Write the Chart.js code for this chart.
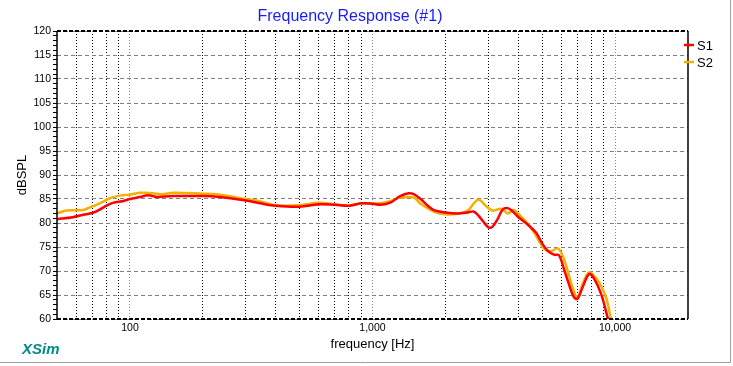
<!DOCTYPE html>
<html lang="en">
<head>
  <meta charset="UTF-8" />
  <title>Frequency Response (#1)</title>
  <script src="https://cdn.jsdelivr.net/npm/chart.js"></script>
  <style>
    body { margin: 0; background: #fff; }
    canvas { display: block; }
  </style>
</head>
<body>
  <canvas id="fr" width="733" height="366"></canvas>

  <script>
    // values
    const s1Freq = [50, 58, 64, 70, 75, 80, 85, 94, 100, 110, 119, 129, 137, 151, 200, 235, 300, 345, 400, 500,
      600, 700, 800, 900, 1000, 1080, 1190, 1300, 1410, 1480, 1580, 1680, 1790, 2000, 2240, 2470, 2610, 2740,
      3000, 3120, 3280, 3440, 3610, 3790, 4000, 4360, 4720, 5000, 5280, 5600, 5870, 6160, 6450, 6760, 7000,
      7350, 7820, 8200, 8770, 9300, 9700];
    const s1Spl = [80.8, 81.2, 81.7, 82.1, 82.8, 83.6, 84.2, 84.6, 85.0, 85.4, 85.8, 85.4, 85.5, 85.6, 85.6, 85.4, 84.7, 84.1, 83.6, 83.4,
      83.9, 83.8, 83.6, 84.1, 84.0, 83.8, 84.3, 85.6, 86.2, 86.0, 85.0, 83.7, 82.7, 82.2, 82.0, 82.2, 82.4, 81.5,
      79.1, 79.2, 80.8, 82.8, 83.1, 82.4, 81.2, 79.7, 78.0, 75.8, 74.2, 73.4, 73.3, 70.4, 67.3, 64.6, 64.2,
      66.6, 69.4, 68.4, 65.2, 60.5, 57.0];

    const s2Freq = [50, 55, 64, 68, 75, 83, 91, 100, 110, 124, 135, 151, 200, 235, 300, 345, 400, 500,
      600, 700, 800, 900, 1000, 1080, 1190, 1300, 1480, 1580, 1790, 2000, 2240, 2470, 2610, 2741, 2930,
      3121, 3327, 3437, 3608, 3823, 4000, 4360, 4720, 5106, 5433, 5800, 6084, 6375, 6683, 7000,
      7349, 7796, 8201, 8613, 9185, 9630, 10000];
    const s2Spl = [82.0, 82.6, 82.7, 83.2, 84.1, 85.2, 85.7, 85.9, 86.3, 86.2, 86.0, 86.3, 86.1, 85.9, 85.0, 84.5, 83.7, 83.7,
      84.2, 83.9, 83.6, 84.1, 84.1, 84.1, 84.6, 85.3, 85.3, 84.0, 82.4, 81.8, 81.9, 82.6, 84.0, 84.9, 83.6,
      82.6, 82.9, 82.9, 82.0, 82.7, 81.9, 79.9, 77.4, 74.6, 74.1, 74.7, 73.2, 70.1, 66.6, 64.5,
      67.3, 69.7, 69.0, 67.6, 64.5, 60.0, 57.0];

    const seriesNames = ['S1', 'S2'];
    const seriesColors = ['#ff0000', '#f2b000'];

    // grid frequencies and the few that get a label
    const xGridFreqs = [60, 70, 80, 90, 100, 200, 300, 400, 500, 600, 700, 800, 900,
      1000, 2000, 3000, 4000, 5000, 6000, 7000, 8000, 9000, 10000];
    const xLabelFreqs = [100, 1000, 10000];
    const xLabelText = ['100', '1,000', '10,000'];

    const font = 'Liberation Sans, Arial, sans-serif';

    const toPoints = (fs, vs) => fs.map((f, i) => ({ x: f, y: vs[i] }));

    const decor = {
      id: 'decor',
      beforeDraw(chart) {
        const ctx = chart.ctx;
        ctx.save();
        ctx.fillStyle = '#fff';
        ctx.fillRect(0, 0, chart.width, chart.height);
        ctx.restore();
      },
      afterDraw(chart) {
        const ctx = chart.ctx;
        const a = chart.chartArea;
        ctx.save();

        // frame round the plot
        ctx.strokeStyle = '#000';
        ctx.lineWidth = 1.5;
        ctx.beginPath();
        ctx.moveTo(a.left, a.top); ctx.lineTo(a.left, a.bottom);
        ctx.moveTo(a.right, a.top); ctx.lineTo(a.right, a.bottom);
        ctx.stroke();
        ctx.lineWidth = 2;
        ctx.setLineDash([4, 2]);
        ctx.beginPath();
        ctx.moveTo(a.left, a.top); ctx.lineTo(a.right, a.top);
        ctx.moveTo(a.left, a.bottom); ctx.lineTo(a.right, a.bottom);
        ctx.stroke();
        ctx.setLineDash([]);

        // outer grey edge
        ctx.strokeStyle = '#a0a0a0';
        ctx.lineWidth = 1;
        ctx.beginPath();
        ctx.moveTo(730.5, 0); ctx.lineTo(730.5, 362.5); ctx.lineTo(0, 362.5);
        ctx.stroke();

        // title
        ctx.fillStyle = '#1a1aff';
        ctx.font = '16px ' + font;
        ctx.textAlign = 'center';
        ctx.textBaseline = 'middle';
        ctx.fillText('Frequency Response (#1)', 350, 17);

        // XSim tag
        ctx.fillStyle = '#008b8b';
        ctx.font = 'italic bold 15px ' + font;
        ctx.textAlign = 'left';
        ctx.fillText('XSim', 22, 350);

        // legend
        ctx.font = '13px ' + font;
        chart.data.datasets.forEach((ds, i) => {
          const y = 45 + i * 17;
          ctx.strokeStyle = ds.borderColor;
          ctx.lineWidth = 2.5;
          ctx.beginPath();
          ctx.moveTo(684, y); ctx.lineTo(694, y);
          ctx.stroke();
          ctx.fillStyle = '#000';
          ctx.fillText(ds.label, 697, y + 1);
        });
        ctx.restore();
      }
    };

    new Chart(document.getElementById('fr'), {
      type: 'line',
      data: {
        datasets: [
          { label: seriesNames[0], data: toPoints(s1Freq, s1Spl), borderColor: seriesColors[0], backgroundColor: seriesColors[0] },
          { label: seriesNames[1], data: toPoints(s2Freq, s2Spl), borderColor: seriesColors[1], backgroundColor: seriesColors[1] }
        ]
      },
      options: {
        responsive: false,
        animation: false,
        layout: { padding: { top: 31, right: 45, left: 0, bottom: 0 } },
        elements: {
          point: { radius: 0 },
          line: { borderWidth: 2.5, tension: 0.35 }
        },
        plugins: {
          legend: { display: false },
          title: { display: false },
          tooltip: { enabled: false }
        },
        scales: {
          x: {
            type: 'logarithmic',
            min: 50,
            max: 20000,
            afterBuildTicks: s => { s.ticks = xGridFreqs.map(v => ({ value: v })); },
            afterFit: s => { s.height = 47; },
            ticks: {
              autoSkip: false,
              maxRotation: 0,
              padding: 3,
              color: '#000',
              font: { family: font, size: 10.5 },
              callback: v => {
                const k = xLabelFreqs.indexOf(v);
                return k >= 0 ? xLabelText[k] : '';
              }
            },
            grid: {
              drawTicks: false,
              lineWidth: 1,
              color: c => xLabelFreqs.includes(c.tick && c.tick.value) ? '#8c8c8c' : '#000'
            },
            border: { display: false, dash: [1, 2] },
            title: {
              display: true,
              text: 'frequency [Hz]',
              color: '#000',
              font: { family: font, size: 13 },
              padding: { top: 0, bottom: 14 }
            }
          },
          y: {
            min: 60,
            max: 120,
            afterFit: s => { s.width = 57; },
            ticks: {
              stepSize: 1,
              autoSkip: false,
              padding: 2,
              color: '#000',
              font: { family: font, size: 10.5 },
              callback: v => (v % 5 === 0 ? String(v) : '')
            },
            grid: {
              tickLength: 4,
              tickColor: '#000',
              lineWidth: 1,
              color: c => (c.tick && c.tick.value % 5 === 0) ? '#808080' : 'rgba(0,0,0,0)'
            },
            border: { display: false, dash: [4, 3] },
            title: {
              display: true,
              text: 'dBSPL',
              color: '#000',
              font: { family: font, size: 13 },
              padding: { top: 15, bottom: 0 }
            }
          }
        }
      },
      plugins: [decor]
    });
  </script>
</body>
</html>
